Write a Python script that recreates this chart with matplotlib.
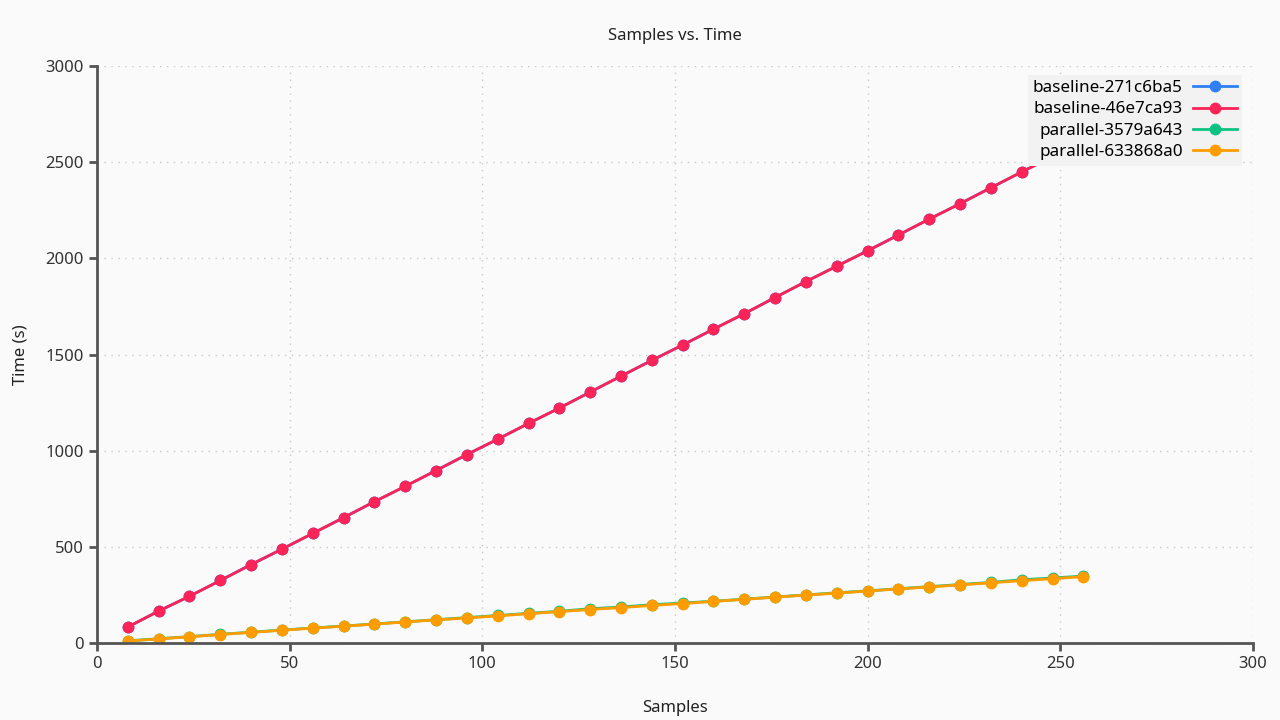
import matplotlib
matplotlib.use('Agg')
import matplotlib.pyplot as plt

plt.rcParams['font.family'] = ['Noto Sans', 'DejaVu Sans']

samples = list(range(8, 257, 8))

baseline_271c6ba5 = [83, 166, 243, 325, 408, 488, 570, 652, 735, 815, 897, 980, 1060, 1142,
                     1222, 1305, 1388, 1470, 1550, 1632, 1713, 1797, 1880, 1960, 2040, 2122,
                     2205, 2285, 2368, 2450, 2530, 2612]
baseline_46e7ca93 = [83, 166, 243, 325, 408, 488, 570, 652, 735, 815, 897, 980, 1060, 1142,
                     1222, 1305, 1388, 1470, 1550, 1632, 1713, 1797, 1880, 1960, 2040, 2122,
                     2205, 2285, 2368, 2450, 2530, 2612]
parallel_3579a643 = [11, 22, 33, 45, 56, 67, 78, 88, 99, 110, 121, 132, 143, 154, 165, 178,
                     187, 199, 208, 217, 228, 239, 250, 261, 271, 282, 293, 304, 315, 329,
                     338, 348]
parallel_633868a0 = [10, 21, 32, 44, 55, 66, 77, 87, 98, 109, 120, 130, 141, 152, 163, 174,
                     184, 195, 205, 216, 227, 238, 249, 259, 270, 281, 291, 302, 313, 324,
                     334, 345]

series = [
    ('baseline-271c6ba5', baseline_271c6ba5, '#2f80f6'),
    ('baseline-46e7ca93', baseline_46e7ca93, '#fa2458'),
    ('parallel-3579a643', parallel_3579a643, '#0cc283'),
    ('parallel-633868a0', parallel_633868a0, '#ff9c00'),
]

fig = plt.figure(figsize=(12.8, 7.2), dpi=100, facecolor='#fafafa')
ax = fig.add_axes([0.0758, 0.107, 0.903, 0.801])
ax.set_facecolor('#fafafa')

for name, vals, color in series:
    ax.plot(samples, vals, color=color, lw=2, marker='o', ms=7.5, mec=color, label=name)

ax.set_xlim(0, 300)
ax.set_ylim(0, 3000)
ax.set_xticks(range(0, 301, 50))
ax.set_yticks(range(0, 3001, 500))
ax.grid(True, linestyle=(0, (1, 4)), color='#c8c8c8', lw=1)
ax.set_axisbelow(True)

for side in ['top', 'right']:
    ax.spines[side].set_visible(False)
for side in ['left', 'bottom']:
    ax.spines[side].set_color('#555555')
    ax.spines[side].set_linewidth(2)
ax.tick_params(colors='#555555', labelcolor='#333333', labelsize=12, width=2, length=6)

ax.set_xlabel('Samples', fontsize=12, color='#222222', labelpad=20)
ax.set_ylabel('Time (s)', fontsize=12, color='#222222', labelpad=12)
ax.set_title('Samples vs. Time', fontsize=12, color='#222222', pad=19)

leg = ax.legend(loc='upper right', bbox_to_anchor=(0.991, 0.985), borderaxespad=0,
                markerfirst=False, fontsize=12.3, frameon=True, fancybox=False,
                handlelength=2.6, borderpad=0.3, labelspacing=0.32, handletextpad=0.6)
leg.get_frame().set_facecolor('#f2f2f2')
leg.get_frame().set_edgecolor('none')
leg.get_frame().set_alpha(1)
for t in leg.get_texts():
    t.set_ha('right')
leg._legend_box.align = 'right'

fig.savefig('out.png', dpi=100, facecolor=fig.get_facecolor())
